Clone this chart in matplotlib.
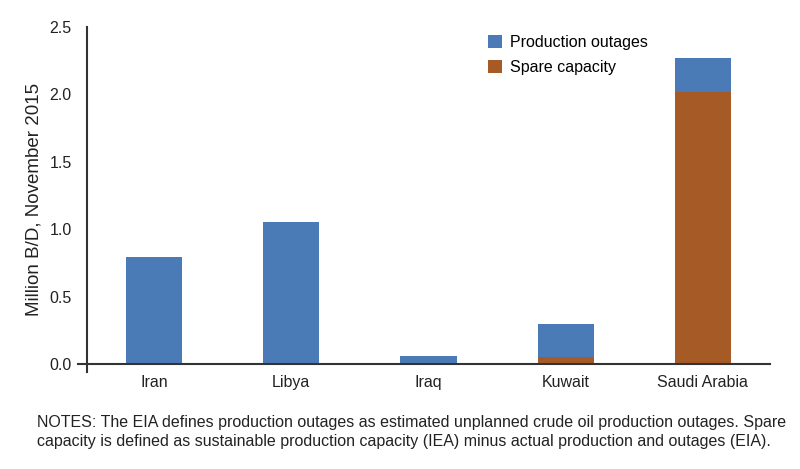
import matplotlib
matplotlib.use("Agg")
import matplotlib.pyplot as plt

categories = ["Iran", "Libya", "Iraq", "Kuwait", "Saudi Arabia"]
spare_capacity = [0.0, 0.0, 0.0, 0.05, 2.02]
production_outages = [0.79, 1.05, 0.057, 0.245, 0.25]
yticks = [0.0, 0.5, 1.0, 1.5, 2.0, 2.5]
ylabel = "Million B/D, November 2015"
notes = ("NOTES: The EIA defines production outages as estimated unplanned crude oil production outages. Spare\n"
         "capacity is defined as sustainable production capacity (IEA) minus actual production and outages (EIA).")

BLUE = "#4b7bb6"
ORANGE = "#a65a26"

plt.rcParams["font.family"] = ["Liberation Sans", "DejaVu Sans"]

fig = plt.figure(figsize=(8.0, 4.69), dpi=100)
ax = fig.add_axes([87/800, 1-372/469, (770-87)/800, (372-27)/469])

x = list(range(len(categories)))
b_spare = ax.bar(x, spare_capacity, width=0.41, color=ORANGE, label="Spare capacity", zorder=2)
b_out = ax.bar(x, production_outages, width=0.41, bottom=spare_capacity, color=BLUE,
               label="Production outages", zorder=2)

ax.set_xlim(-0.49, 4.49)
ax.set_ylim(-0.06, 2.5)
ax.set_yticks(yticks)
ax.set_yticklabels([f"{v:.1f}" for v in yticks])
ax.set_xticks(x)
ax.set_xticklabels(categories)
ax.tick_params(axis="both", length=0, labelsize=11.5, colors="#222222")
ax.tick_params(axis="y", pad=11)
ax.tick_params(axis="x", pad=2)

for s in ["top", "right", "bottom"]:
    ax.spines[s].set_visible(False)
ax.spines["left"].set_color("#333333")
ax.spines["left"].set_linewidth(1.5)
ax.axhline(0, xmin=-0.013, xmax=1.0, color="#333333", lw=1.5, clip_on=False, zorder=3)

ax.set_ylabel(ylabel, fontsize=13.5, color="#222222", labelpad=5)

ax.legend([b_out, b_spare], ["Production outages", "Spare capacity"],
          loc="upper left", bbox_to_anchor=(488/800, 1-35/469), bbox_transform=fig.transFigure,
          frameon=False, fontsize=11.5, handlelength=0.9, handleheight=0.9,
          handletextpad=0.5, labelspacing=0.62, borderpad=0, borderaxespad=0)

fig.text(37/800, 1-432/469, notes, fontsize=11.55,
         color="#222222", va="center", ha="left", linespacing=1.3)

fig.savefig("out.png", dpi=100)
